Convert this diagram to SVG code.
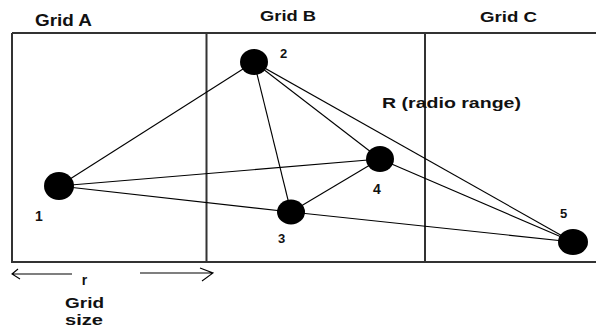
<svg xmlns="http://www.w3.org/2000/svg" width="596" height="327" viewBox="0 0 596 327">
<style>
.t{font-family:"Liberation Sans",Arial,sans-serif;font-weight:bold;fill:#111}
.frame{stroke:#333;stroke-width:2;fill:none}
.edge{stroke:#000;stroke-width:1.1;fill:none}
.node{fill:#000}
</style>
<rect width="596" height="327" fill="#fff"/>
<g id="grid">
<path class="frame" d="M12,33 H596 M12,33 V262 H596 M206.5,33 V262 M425,33 V262"/>
<text class="t" x="35" y="26" font-size="16" textLength="57" lengthAdjust="spacingAndGlyphs">Grid A</text>
<text class="t" x="260" y="21" font-size="15" textLength="56" lengthAdjust="spacingAndGlyphs">Grid B</text>
<text class="t" x="480" y="22" font-size="15" textLength="57" lengthAdjust="spacingAndGlyphs">Grid C</text>
<text class="t" x="382" y="108" font-size="14" textLength="139" lengthAdjust="spacingAndGlyphs">R (radio range)</text>
</g>
<g id="connectors">
<line class="edge" x1="59" y1="186" x2="254" y2="62"/>
<line class="edge" x1="59" y1="186" x2="380" y2="159"/>
<line class="edge" x1="59" y1="186" x2="291" y2="212"/>
<line class="edge" x1="254" y1="62" x2="291" y2="212"/>
<line class="edge" x1="254" y1="62" x2="380" y2="159"/>
<line class="edge" x1="254" y1="62" x2="573" y2="242"/>
<line class="edge" x1="291" y1="212" x2="380" y2="159"/>
<line class="edge" x1="291" y1="212" x2="573" y2="242"/>
<line class="edge" x1="380" y1="159" x2="573" y2="242"/>
</g>
<g id="n1"><ellipse class="node" cx="59" cy="186" rx="15" ry="14"/><text class="t" x="35" y="221" font-size="14">1</text></g>
<g id="n2"><ellipse class="node" cx="254" cy="62" rx="14" ry="13"/><text class="t" x="280" y="58" font-size="13">2</text></g>
<g id="n3"><ellipse class="node" cx="291" cy="212" rx="14" ry="12.5"/><text class="t" x="278" y="243" font-size="13">3</text></g>
<g id="n4"><ellipse class="node" cx="380" cy="159" rx="14" ry="13"/><text class="t" x="373" y="194" font-size="14">4</text></g>
<g id="n5"><ellipse class="node" cx="573" cy="242" rx="15" ry="13"/><text class="t" x="560" y="218" font-size="13">5</text></g>
<g id="gridsize">
<path class="edge" d="M12,274 H72 M18,269 L12,274 L20,279 M140,273 H213 M200,268 L213,273 L202,281"/>
<text class="t" x="84.5" y="285" font-size="14" text-anchor="middle">r</text>
<text class="t" x="65" y="308" font-size="15" textLength="39" lengthAdjust="spacingAndGlyphs">Grid</text>
<text class="t" x="65" y="325" font-size="15" textLength="38" lengthAdjust="spacingAndGlyphs">size</text>
</g>
</svg>
